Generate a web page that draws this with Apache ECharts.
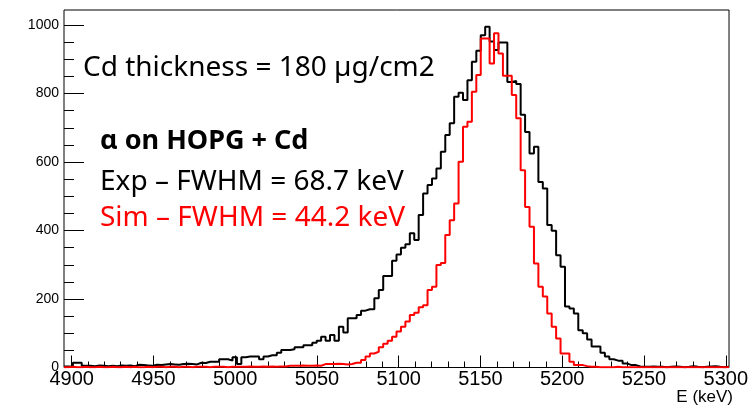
<!DOCTYPE html>
<html>
<head>
<meta charset="utf-8">
<script src="https://cdn.jsdelivr.net/npm/echarts@6/dist/echarts.min.js"></script>
<style>
  html, body { margin: 0; padding: 0; background: #fff; }
  #chart { width: 751px; height: 408px; }
</style>
</head>
<body>
<div id="chart"></div>
<script>
// histogram range (keV) and bin count
const binLo = 4895.3;
const binHi = 5302;
const nBins = 150;

// measured spectrum (counts per bin)
const expCounts = [
  3, 2, 14, 14, 5, 5, 4, 6, 5, 4,
  5, 4, 6, 5, 6, 4, 8, 7, 6, 5,
  8, 7, 9, 10, 9, 8, 10, 11, 10, 9,
  14, 13, 17, 17, 17, 24, 24, 20, 30, 10,
  30, 32, 32, 32, 24, 32, 36, 36, 43, 51,
  51, 53, 59, 59, 65, 65, 72, 78, 90, 78,
  95, 78, 119, 102, 144, 144, 153, 166, 170, 170,
  202, 226, 267, 267, 312, 330, 350, 360, 392, 372,
  445, 508, 533, 552, 581, 630, 679, 713, 791, 802,
  781, 839, 893, 925, 970, 995, 952, 927, 949, 949,
  834, 837, 828, 738, 688, 625, 645, 542, 523, 416,
  399, 328, 294, 178, 172, 158, 109, 100, 82, 61,
  61, 43, 32, 24, 20, 20, 12, 7, 7, 3,
  2, 2, 3, 2, 2, 1, 2, 3, 2, 1,
  2, 4, 2, 1, 2, 3, 4, 2, 1, 2
];

// simulated spectrum (counts per bin)
const simCounts = [
  1, 2, 1, 1, 2, 1, 1, 2, 1, 1,
  2, 1, 1, 2, 1, 2, 1, 1, 2, 1,
  2, 2, 1, 2, 2, 1, 2, 2, 1, 2,
  2, 2, 1, 2, 2, 2, 1, 2, 2, 2,
  2, 3, 2, 2, 3, 2, 3, 2, 3, 3,
  5, 5, 5, 6, 5, 5, 6, 5, 10, 10,
  10, 11, 10, 9, 10, 14, 14, 22, 32, 41,
  46, 59, 69, 78, 90, 105, 119, 134, 153, 160,
  176, 182, 226, 236, 299, 305, 387, 430, 479, 601,
  703, 718, 805, 854, 961, 961, 888, 976, 917, 852,
  852, 796, 728, 576, 469, 411, 304, 236, 207, 158,
  119, 85, 41, 41, 17, 7, 7, 4, 2, 2,
  1, 1, 1, 1, 2, 1, 1, 1, 1, 1,
  1, 1, 1, 1, 1, 1, 1, 1, 1, 1,
  1, 1, 1, 1, 1, 1, 1, 1, 1, 1
];

const xMajor = [4900, 4950, 5000, 5050, 5100, 5150, 5200, 5250, 5300];
const yMajor = [0, 200, 400, 600, 800, 1000];
const yMax = 1044;

const xMinor = [];
for (let v = 4900; v <= 5300; v += 10) xMinor.push(v);
const yMinor = [];
for (let v = 0; v <= 1000; v += 50) yMinor.push(v);

// turn bin contents into step points (left edge of each bin, plus closing edge)
function toSteps(counts) {
  const w = (binHi - binLo) / nBins;
  const pts = counts.map((c, i) => [binLo + i * w, c]);
  pts.push([binHi, counts[counts.length - 1]]);
  return pts;
}

const chart = echarts.init(document.getElementById('chart'), null, {renderer: 'canvas'});
const axisFont = '"Liberation Sans", Arial, sans-serif';
const noteFont = '"Noto Sans", "Open Sans", sans-serif';
const plain = v => String(v);

chart.setOption({
  animation: false,
  backgroundColor: '#fff',
  grid: {
    left: 64, top: 10, right: 18, bottom: 40.5,
    show: true, borderColor: '#000', borderWidth: 1, backgroundColor: 'transparent'
  },
  xAxis: [
    {
      type: 'value', min: binLo, max: binHi, position: 'bottom',
      axisLine: {show: false},
      splitLine: {show: false},
      axisTick: {show: true, inside: true, length: 12, customValues: xMajor, lineStyle: {color: '#000', width: 1}},
      axisLabel: {show: true, customValues: xMajor, formatter: plain, margin: 2, fontSize: 20, color: '#000', fontFamily: axisFont}
    },
    {
      type: 'value', min: binLo, max: binHi, position: 'bottom',
      axisLine: {show: false},
      splitLine: {show: false},
      axisTick: {show: true, inside: true, length: 6, customValues: xMinor, lineStyle: {color: '#000', width: 1}},
      axisLabel: {show: false}
    }
  ],
  yAxis: [
    {
      type: 'value', min: 0, max: yMax, position: 'left',
      axisLine: {show: false},
      splitLine: {show: false},
      axisTick: {show: true, inside: true, length: 20, customValues: yMajor, lineStyle: {color: '#000', width: 1}},
      axisLabel: {show: true, customValues: yMajor, formatter: plain, margin: 5, fontSize: 14, color: '#000', fontFamily: axisFont}
    },
    {
      type: 'value', min: 0, max: yMax, position: 'left',
      axisLine: {show: false},
      splitLine: {show: false},
      axisTick: {show: true, inside: true, length: 10, customValues: yMinor, lineStyle: {color: '#000', width: 1}},
      axisLabel: {show: false}
    }
  ],
  series: [
    {
      name: 'Exp', type: 'line', step: 'end', xAxisIndex: 0, yAxisIndex: 0,
      showSymbol: false, clip: true,
      lineStyle: {color: '#000', width: 2},
      data: toSteps(expCounts), z: 2
    },
    {
      name: 'Sim', type: 'line', step: 'end', xAxisIndex: 0, yAxisIndex: 0,
      showSymbol: false, clip: true,
      lineStyle: {color: '#ff0000', width: 2},
      data: toSteps(simCounts), z: 3
    }
  ],
  graphic: [
    {type: 'text', left: 83, top: 54, style: {text: 'Cd thickness = 180 µg/cm2', fontSize: 28, fontFamily: noteFont, fill: '#000'}},
    {type: 'text', left: 100, top: 128, style: {text: 'α on HOPG + Cd', fontSize: 27, fontWeight: 'bold', fontFamily: noteFont, fill: '#000'}},
    {type: 'text', left: 100, top: 168, style: {text: 'Exp – FWHM = 68.7 keV', fontSize: 28, fontFamily: noteFont, fill: '#000'}},
    {type: 'text', left: 100, top: 204, style: {text: 'Sim – FWHM = 44.2 keV', fontSize: 28, fontFamily: noteFont, fill: '#ff0000'}},
    {type: 'text', right: 18, top: 389, style: {text: 'E (keV)', fontSize: 17, fontFamily: axisFont, fill: '#000'}}
  ]
});
</script>
</body>
</html>
